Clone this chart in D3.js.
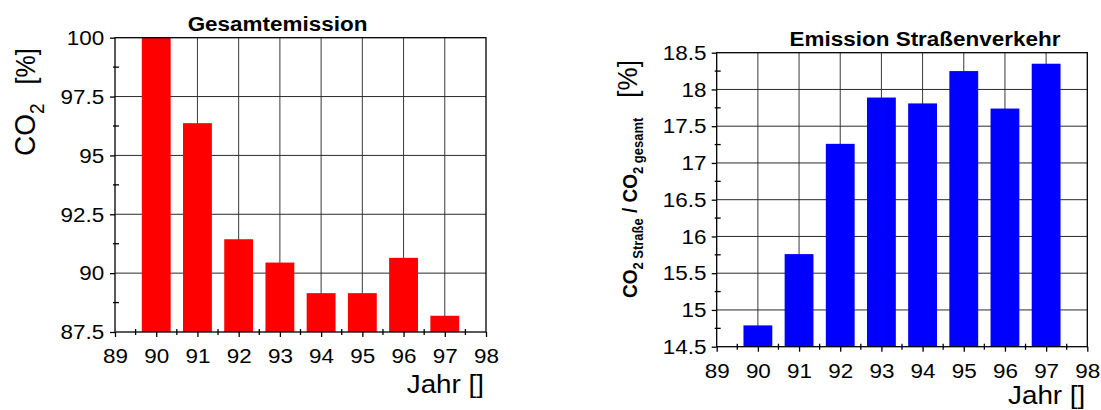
<!DOCTYPE html>
<html>
<head>
<meta charset="utf-8">
<script src="https://cdn.jsdelivr.net/npm/d3@7"></script>
<style>
  html, body { margin: 0; padding: 0; background: #fff; }
  svg { display: block; font-family: "Liberation Sans", Arial, sans-serif; }
</style>
</head>
<body>
<svg id="chart" width="1101" height="410"></svg>
<script>
// Years on the x axis and the bars drawn for each year
const years = [90, 91, 92, 93, 94, 95, 96, 97];
const yearTicks = [89, 90, 91, 92, 93, 94, 95, 96, 97, 98];

// Total CO2 emission relative to 1990 [%]
const totalEmission = [100, 96.37, 91.44, 90.45, 89.15, 89.15, 90.65, 88.19];
const totalTicks = [87.5, 90, 92.5, 95, 97.5, 100];

// Road traffic share of total CO2 emission [%]
const roadShare = [14.79, 15.76, 17.26, 17.89, 17.81, 18.25, 17.74, 18.35];
const roadTicks = [14.5, 15, 15.5, 16, 16.5, 17, 17.5, 18, 18.5];

const svg = d3.select("#chart");
const SX = 1.07; // slight horizontal widening of the lettering

function midpoints(arr) {
  return d3.pairs(arr).map(([a, b]) => (a + b) / 2);
}

function drawPanel(opt) {
  const g = svg.append("g");
  const x = d3.scaleLinear().domain([yearTicks[0], yearTicks[yearTicks.length - 1]]).range([opt.left, opt.right]);
  const y = d3.scaleLinear().domain([opt.ticks[0], opt.ticks[opt.ticks.length - 1]]).range([opt.bottom, opt.top]);
  const unit = x(1) - x(0);
  const barW = unit * 0.7;

  // grid
  g.append("g").selectAll("line").data(years).join("line")
    .attr("x1", d => x(d)).attr("x2", d => x(d))
    .attr("y1", opt.top).attr("y2", opt.bottom)
    .attr("stroke", "#3a3a3a").attr("stroke-width", 1);
  g.append("g").selectAll("line").data(opt.ticks.slice(1, -1)).join("line")
    .attr("x1", opt.left).attr("x2", opt.right)
    .attr("y1", d => y(d)).attr("y2", d => y(d))
    .attr("stroke", "#2a2a2a").attr("stroke-width", 1);

  // bars
  g.append("g").selectAll("rect").data(years).join("rect")
    .attr("x", (d) => x(d) - barW / 2)
    .attr("width", barW)
    .attr("y", (d, i) => y(opt.values[i]))
    .attr("height", (d, i) => y(opt.ticks[0]) - y(opt.values[i]))
    .attr("fill", opt.color);

  // frame
  g.append("rect")
    .attr("x", opt.left).attr("y", opt.top)
    .attr("width", opt.right - opt.left).attr("height", opt.bottom - opt.top)
    .attr("fill", "none").attr("stroke", "#000").attr("stroke-width", 1.3);

  // y axis
  const yAxis = g.append("g")
    .attr("transform", `translate(${opt.left},0)`)
    .call(d3.axisLeft(y).tickValues(opt.ticks).tickSize(5).tickPadding(opt.yPad).tickFormat(d => String(d)));
  yAxis.select(".domain").remove();
  yAxis.selectAll(".tick line").attr("stroke", "#000").attr("stroke-width", 1.3);
  yAxis.selectAll(".tick text")
    .attr("font-size", 21).attr("fill", "#000")
    .attr("font-family", "Liberation Sans, Arial, sans-serif")
    .attr("transform", `scale(${SX},1)`);
  g.append("g").selectAll("line").data(midpoints(opt.ticks)).join("line")
    .attr("x1", opt.left - 2).attr("x2", opt.left + 4)
    .attr("y1", d => y(d)).attr("y2", d => y(d))
    .attr("stroke", "#000").attr("stroke-width", 1.3);

  // x axis
  const xAxis = g.append("g")
    .attr("transform", `translate(0,${opt.bottom})`)
    .call(d3.axisBottom(x).tickValues(yearTicks).tickSize(5).tickPadding(11).tickFormat(d => String(d)));
  xAxis.select(".domain").remove();
  xAxis.selectAll(".tick line").attr("stroke", "#000").attr("stroke-width", 1.3);
  xAxis.selectAll(".tick text")
    .attr("font-size", 21).attr("fill", "#000")
    .attr("font-family", "Liberation Sans, Arial, sans-serif")
    .attr("transform", `scale(${SX},1)`);
  g.append("g").selectAll("line").data(midpoints(yearTicks)).join("line")
    .attr("x1", d => x(d)).attr("x2", d => x(d))
    .attr("y1", opt.bottom - 3).attr("y2", opt.bottom + 3)
    .attr("stroke", "#000").attr("stroke-width", 1.3);

  // title
  g.append("text")
    .attr("transform", `translate(${opt.titleX},${opt.titleY}) scale(${SX},1)`)
    .attr("text-anchor", "middle")
    .attr("font-size", 21).attr("font-weight", "bold")
    .text(opt.title);

  // x axis label
  g.append("text")
    .attr("transform", `translate(${opt.right - 2},${opt.xLabelY}) scale(${SX},1)`)
    .attr("text-anchor", "end")
    .attr("font-size", 26)
    .text("Jahr []");

  return g;
}

const left = drawPanel({
  left: 115, right: 486, top: 37.7, bottom: 332,
  ticks: totalTicks, values: totalEmission, color: "#ff0000",
  yPad: 5, title: "Gesamtemission", titleX: 277.5, titleY: 30.5, xLabelY: 393
});

const right = drawPanel({
  left: 716.7, right: 1087.3, top: 52.7, bottom: 346.7,
  ticks: roadTicks, values: roadShare, color: "#0000ff",
  yPad: 4.5, title: "Emission Straßenverkehr", titleX: 925, titleY: 45.5, xLabelY: 404
});

// y axis label, left panel: CO2 [%]
const yl1 = svg.append("text")
  .attr("transform", "translate(35,156) rotate(-90) scale(1,1.07)")
  .attr("font-size", 28);
yl1.append("tspan").text("CO");
yl1.append("tspan").attr("font-size", 19).attr("dy", 8).text("2");
yl1.append("tspan").attr("dy", -8).attr("dx", 19).attr("font-size", 25).text("[%]");

// y axis label, right panel: CO2 Straße / CO2 gesamt [%]
const yl2 = svg.append("text")
  .attr("transform", "translate(636.5,298) rotate(-90) scale(1,1.07)")
  .attr("font-size", 19).attr("font-weight", "bold");
yl2.append("tspan").text("CO");
yl2.append("tspan").attr("font-size", 13).attr("dy", 6).text("2 Straße");
yl2.append("tspan").attr("dy", -6).text(" / CO");
yl2.append("tspan").attr("font-size", 13).attr("dy", 6).text("2 gesamt");
yl2.append("tspan").attr("dy", -6).attr("dx", 20).attr("font-size", 26).attr("font-weight", "normal").text("[%]");
</script>
</body>
</html>
